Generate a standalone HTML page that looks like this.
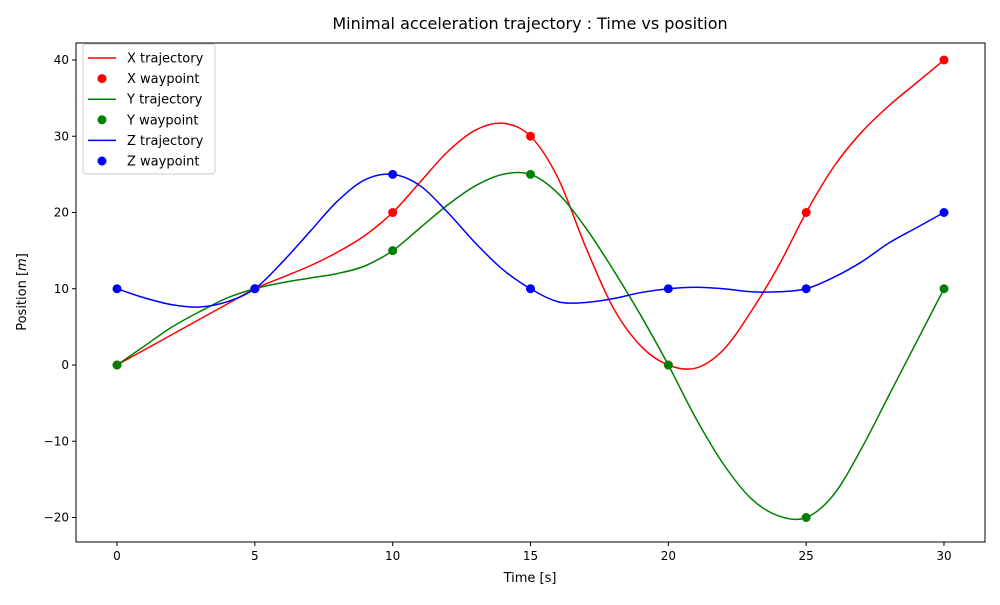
<!DOCTYPE html>
<html><head><meta charset="utf-8"><style>
body{margin:0;background:#fff;font-family:"Liberation Sans","DejaVu Sans",sans-serif}
</style></head><body>
<svg id="chart" width="1000" height="600" xmlns="http://www.w3.org/2000/svg" font-family="DejaVu Sans, Liberation Sans, sans-serif"></svg>
<script>
const times = [0,1,2,3,4,5,6,7,8,9,10,11,12,13,14,15,16,17,18,19,20,21,22,23,24,25,26,27,28,29,30];
const xTraj = [0,2,4,6,8,10,11.5,13,14.8,17,20,24,28,30.8,31.7,30,24.5,15.5,7.5,2.5,0,-0.4,2,7,13,20,26,30.5,34,37,40];
const yTraj = [0,2.5,5,7,8.8,10,10.8,11.4,12,13,15,18,21,23.5,25,25,22.5,18,12.5,6.5,0,-7,-13,-17.5,-19.8,-20,-17,-11,-4,3,10];
const zTraj = [10,8.8,7.9,7.6,8.3,10,13.5,17.5,21.5,24.3,25,23.5,20,16,12.5,10,8.3,8.2,8.7,9.5,10,10.2,10,9.6,9.6,10,11.5,13.5,16,18,20];
const wpTimes = [0,5,10,15,20,25,30];
const xWp = [0,10,20,30,0,20,40];
const yWp = [0,10,15,25,0,-20,10];
const zWp = [10,10,25,10,10,10,20];
const xTicks = [0,5,10,15,20,25,30];
const yTicks = [-20,-10,0,10,20,30,40];

const L=76,R=985,T=43,B=542;
const sx=t=>117+t*(944-117)/30;
const sy=v=>365-v*(365-60)/40;
const svg=document.getElementById('chart');
const NS='http://www.w3.org/2000/svg';
function mk(tag,attrs,parent){const e=document.createElementNS(NS,tag);for(const k in attrs)e.setAttribute(k,attrs[k]);(parent||svg).appendChild(e);return e;}
function txt(s,attrs,name){const e=mk('text',attrs);e.textContent=s;
return e;}

txt('Minimal acceleration trajectory : Time vs position',{x:530,y:29,'text-anchor':'middle','font-size':16},'chart-title');
txt('Time [s]',{x:530,y:582,'text-anchor':'middle','font-size':13},'x-axis-title');
const yt=txt('Position [m]',{x:26,y:292,'text-anchor':'middle','font-size':13,transform:'rotate(-90 26 292)'},'y-axis-title');
yt.innerHTML='Position [<tspan font-style="italic">m</tspan>]';

xTicks.forEach(t=>{const l=mk('line',{x1:sx(t),x2:sx(t),y1:B,y2:B+4,stroke:'#000'});


txt(String(t),{x:sx(t),y:B+18,'text-anchor':'middle','font-size':12},'x-tick-label');});
yTicks.forEach(v=>{const l=mk('line',{x1:L-4,x2:L,y1:sy(v),y2:sy(v),stroke:'#000'});


txt(v<0?'\u2212'+(-v):String(v),{x:L-7,y:sy(v)+4,'text-anchor':'end','font-size':12},'y-tick-label');});

function smooth(ts,vs){const p=ts.map((t,i)=>[sx(t),sy(vs[i])]);let d='M'+p[0][0]+','+p[0][1];
for(let i=0;i<p.length-1;i++){const p0=p[i-1]||p[i],p1=p[i],p2=p[i+1],p3=p[i+2]||p2;
d+=` C${p1[0]+(p2[0]-p0[0])/6},${p1[1]+(p2[1]-p0[1])/6} ${p2[0]-(p3[0]-p1[0])/6},${p2[1]-(p3[1]-p1[1])/6} ${p2[0]},${p2[1]}`;}return d;}
const series=[['x',xTraj,xWp,'#ff0000'],['y',yTraj,yWp,'#008000'],['z',zTraj,zWp,'#0000ff']];
series.forEach(([n,tr,wp,c])=>{
const p=mk('path',{d:smooth(times,tr),fill:'none',stroke:c,'stroke-width':1.5});


wpTimes.forEach((t,i)=>{const ci=mk('circle',{cx:sx(t),cy:sy(wp[i]),r:4.5,fill:c});

});
});
const frame=mk('rect',{x:L,y:T,width:R-L,height:B-T,fill:'none',stroke:'#000','stroke-width':1});



const lg=mk('rect',{x:83,y:44,width:132,height:130,fill:'#fff',stroke:'#ccc',rx:3});


const entries=[['X trajectory','#ff0000',0],['X waypoint','#ff0000',1],['Y trajectory','#008000',0],['Y waypoint','#008000',1],['Z trajectory','#0000ff',0],['Z waypoint','#0000ff',1]];
entries.forEach(([s,c,pt],i)=>{const y=58+i*20.6;
if(pt){const m=mk('circle',{cx:102,cy:y,r:4.5,fill:c});
}
else{const m=mk('line',{x1:88,x2:116,y1:y,y2:y,stroke:c,'stroke-width':1.5});
}
txt(s,{x:127,y:y+4.5,'font-size':13},'legend-entry');});
</script>
</body></html>
